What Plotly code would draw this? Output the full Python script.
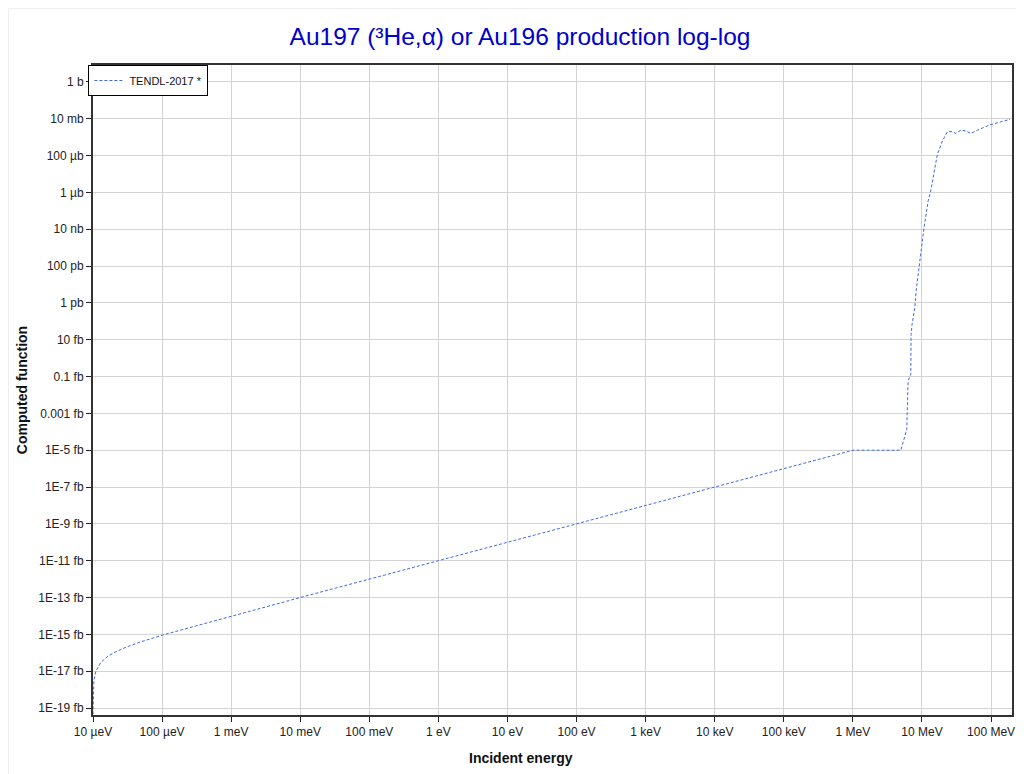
import plotly.graph_objects as go

# incident energy (eV) and cross section (barn)
energy_ev = [1.00e-5, 1.01e-5, 1.03e-5, 1.1e-5, 1.3e-5, 1.6e-5, 2.0e-5, 3.0e-5, 5.0e-5,
             1.0e-4, 1.0e-2, 1.0, 1.0e6, 4.93e6, 6.03e6, 6.1e6, 6.30e6, 6.89e6, 6.95e6,
             7.19e6, 7.87e6, 8.22e6, 9.18e6, 9.84e6, 1.07e7, 1.23e7, 1.34e7, 1.67e7,
             1.98e7, 2.34e7, 2.76e7, 3.08e7, 3.65e7, 4.31e7, 5.08e7, 6.35e7, 9.35e7,
             1.38e8, 1.88e8]
xs_barn = [4.5e-35, 1.0e-33, 3.0e-33, 1.0e-32, 3.0e-32, 6.0e-32, 1.0e-31, 2.0e-31, 4.0e-31,
           9.0e-31, 1.0e-28, 1.0e-26, 1.0e-20, 1.0e-20, 1.35e-19, 8.9e-19, 5.8e-17, 1.3e-16, 1.9e-14,
           6.9e-14, 5.5e-13, 4.5e-12, 1.26e-10, 1.5e-9, 1.2e-8, 3.5e-7, 1.2e-6, 1.17e-4,
           6.3e-4, 2.0e-3, 2.0e-3, 1.6e-3, 2.4e-3, 2.2e-3, 1.6e-3, 2.4e-3, 4.5e-3,
           6.8e-3, 9.3e-3]

x_tickvals = [1e-5, 1e-4, 1e-3, 1e-2, 1e-1, 1, 10, 100, 1e3, 1e4, 1e5, 1e6, 1e7, 1e8]
x_ticktext = ["10 µeV", "100 µeV", "1 meV", "10 meV", "100 meV", "1 eV", "10 eV", "100 eV",
              "1 keV", "10 keV", "100 keV", "1 MeV", "10 MeV", "100 MeV"]
y_tickvals = [1, 1e-2, 1e-4, 1e-6, 1e-8, 1e-10, 1e-12, 1e-14, 1e-16, 1e-18, 1e-20,
              1e-22, 1e-24, 1e-26, 1e-28, 1e-30, 1e-32, 1e-34]
y_ticktext = ["1 b", "10 mb", "100 µb", "1 µb", "10 nb", "100 pb", "1 pb", "10 fb", "0.1 fb",
              "0.001 fb", "1E-5 fb", "1E-7 fb", "1E-9 fb", "1E-11 fb", "1E-13 fb", "1E-15 fb",
              "1E-17 fb", "1E-19 fb"]

FONT = "Liberation Sans, Arial"

fig = go.Figure()
fig.add_trace(go.Scatter(x=energy_ev, y=xs_barn, mode="lines", name="TENDL-2017 *",
                         line=dict(color="#4169E1", width=1, dash="3px,2px")))

axis_style = dict(type="log", showgrid=True, gridcolor="#d3d3d3", gridwidth=1, zeroline=False,
                  showline=True, linecolor="#333", linewidth=2, mirror=True,
                  ticks="outside", ticklen=5, tickcolor="#222",
                  tickfont=dict(family=FONT, size=12, color="#222"))

fig.update_xaxes(axis_style, range=[-5, 8.303], tickvals=x_tickvals, ticktext=x_ticktext)
fig.update_yaxes(axis_style, range=[-34.38, 0.92], tickvals=y_tickvals, ticktext=y_ticktext,
                 title=dict(text="<b>Computed function</b>", standoff=7,
                            font=dict(family=FONT, size=14, color="#111")))

# x title sits centred on the page, not on the plot area
fig.add_annotation(text="<b>Incident energy</b>", xref="paper", yref="paper",
                   x=(513 - 85) / 919, y=-43 / 650, xanchor="center", yanchor="middle",
                   showarrow=False, font=dict(family=FONT, size=14, color="#111"))

fig.update_layout(
    width=1024, height=774,
    margin=dict(l=85, r=20, t=57, b=67, autoexpand=False),
    paper_bgcolor="white", plot_bgcolor="white",
    title=dict(text="Au197 (³He,α) or Au196 production log-log", x=0.5, xanchor="center",
               y=1 - 28 / 774, yanchor="middle",
               font=dict(family=FONT, size=24.5, color="#0000CC")),
    legend=dict(x=-0.005, y=1, xanchor="left", yanchor="top", bgcolor="white",
                bordercolor="black", borderwidth=1,
                font=dict(family=FONT, size=11, color="#111")),
    showlegend=True,
    shapes=[dict(type="line", xref="paper", yref="paper", x0=-84.5 / 919, x1=1.03,
                 y0=1 + 56.5 / 650, y1=1 + 56.5 / 650, line=dict(color="#eeeeee", width=1)),
            dict(type="line", xref="paper", yref="paper", x0=-84.5 / 919, x1=-84.5 / 919,
                 y0=1 + 56.5 / 650, y1=-0.1, line=dict(color="#eeeeee", width=1))],
)

fig.write_html("out.html")
